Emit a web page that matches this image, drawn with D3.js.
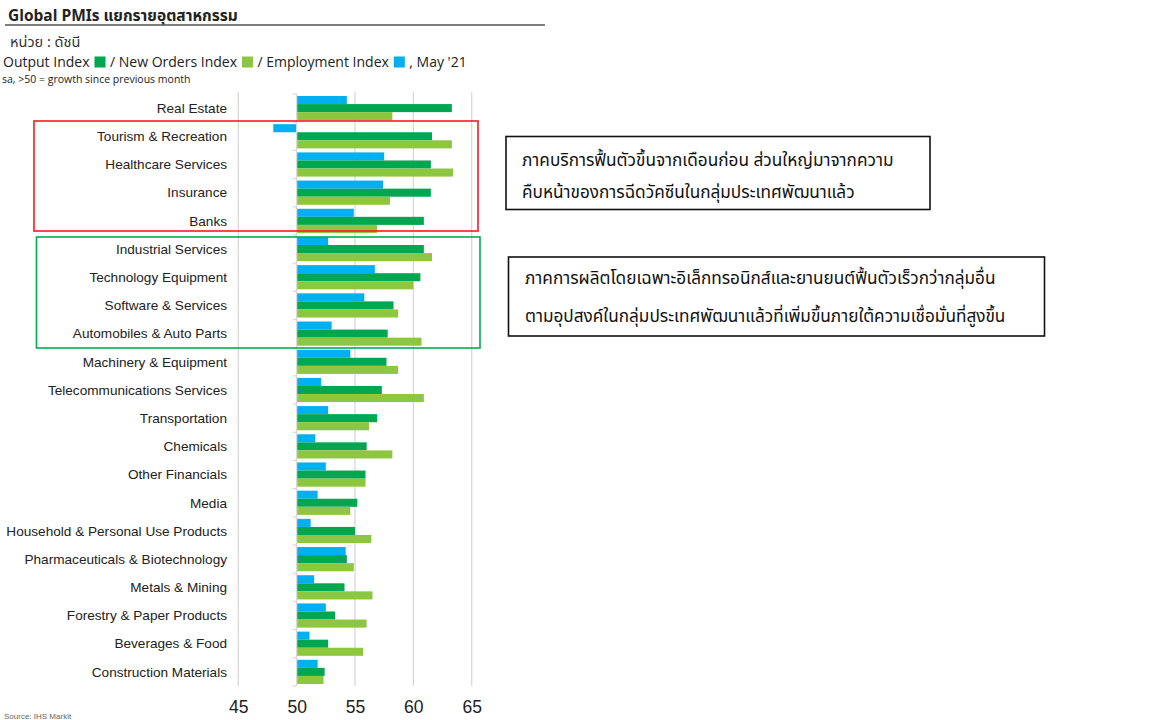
<!DOCTYPE html>
<html><head><meta charset="utf-8">
<script src="https://cdn.jsdelivr.net/npm/d3@7"></script>
<style>
html,body{margin:0;padding:0;background:#fff;}
svg{display:block;}
</style></head>
<body>
<svg id="c" width="1156" height="720"></svg>
<script>
const categories = ["Real Estate","Tourism & Recreation","Healthcare Services","Insurance","Banks","Industrial Services","Technology Equipment","Software & Services","Automobiles & Auto Parts","Machinery & Equipment","Telecommunications Services","Transportation","Chemicals","Other Financials","Media","Household & Personal Use Products","Pharmaceuticals & Biotechnology","Metals & Mining","Forestry & Paper Products","Beverages & Food","Construction Materials"];
const employment = [54.3,48.0,57.5,57.4,54.9,52.7,56.7,55.8,53.0,54.6,52.1,52.7,51.6,52.5,51.8,51.2,54.2,51.5,52.5,51.1,51.8];
const output = [63.3,61.6,61.5,61.5,60.9,60.9,60.6,58.3,57.8,57.7,57.3,56.9,56.0,55.9,55.2,55.0,54.3,54.1,53.3,52.7,52.4];
const newOrders = [58.2,63.3,63.4,58.0,56.9,61.6,60.0,58.7,60.7,58.7,60.9,56.2,58.2,55.9,54.6,56.4,54.9,56.5,56.0,55.7,52.3];
const xTicks = [45,50,55,60,65];
const seriesNames = ["Employment Index","Output Index","New Orders Index"];
const seriesColors = {"Employment Index":"#00b0f0","Output Index":"#00a650","New Orders Index":"#8dc63f"};
const title = "Global PMIs แยกรายอุตสาหกรรม";
const unitText = "หน่วย : ดัชนี";
const noteText = "sa, >50 = growth since previous month";
const note1 = ["ภาคบริการฟื้นตัวขึ้นจากเดือนก่อน ส่วนใหญ่มาจากความ","คืบหน้าของการฉีดวัคซีนในกลุ่มประเทศพัฒนาแล้ว"];
const note2 = ["ภาคการผลิตโดยเฉพาะอิเล็กทรอนิกส์และยานยนต์ฟื้นตัวเร็วกว่ากลุ่มอื่น","ตามอุปสงค์ในกลุ่มประเทศพัฒนาแล้วที่เพิ่มขึ้นภายใต้ความเชื่อมั่นที่สูงขึ้น"];

const svg = d3.select("#c");
const thai = "Tahoma, 'Noto Sans Thai', 'Noto Sans', 'DejaVu Sans', sans-serif";
const arial = "'Liberation Sans', Arial, sans-serif";

const x = d3.scaleLinear().domain([45,65]).range([238.3,471.7]);
const y = d3.scaleBand().domain(categories).range([94,686]).padding(0);
const inner = d3.scaleBand().domain(seriesNames).range([2, y.bandwidth()-2]).padding(0);
const valuesBy = {"Employment Index":employment,"Output Index":output,"New Orders Index":newOrders};

// title
svg.append("text").attr("x",8).attr("y",21).attr("font-family",thai).attr("font-size",15.5).attr("font-weight","bold").attr("fill","#222").text(title);
svg.append("line").attr("x1",5).attr("x2",545).attr("y1",25).attr("y2",25).attr("stroke","#555").attr("stroke-width",1.3);
svg.append("text").attr("x",10).attr("y",47).attr("font-family",thai).attr("font-size",14.5).attr("fill","#333").text(unitText);

// legend
const leg = svg.append("g").attr("font-family","'Open Sans', 'Noto Sans', sans-serif").attr("font-size",14).attr("fill","#222");
const legItems = [["Output Index","Output Index"],["/ New Orders Index","New Orders Index"],["/ Employment Index","Employment Index"],[", May '21",null]];
let lx = 3;
legItems.forEach(([t,s])=>{
  const tt = leg.append("text").attr("x",lx).attr("y",67).text(t);
  lx += tt.node().getComputedTextLength() + 5;
  if(s){
    leg.append("rect").attr("x",lx).attr("y",56.5).attr("width",11).attr("height",11).attr("fill",seriesColors[s]);
    lx += 15.5;
  }
});
svg.append("text").attr("x",2).attr("y",83).attr("font-family","'Open Sans', 'Noto Sans', sans-serif").attr("font-size",10.5).attr("fill","#222").text(noteText);

// gridlines
svg.append("g").selectAll("line").data(xTicks.filter(d=>d!==50)).join("line")
  .attr("x1",d=>x(d)).attr("x2",d=>x(d)).attr("y1",92).attr("y2",686)
  .attr("stroke","#d9d9d9").attr("stroke-width",1.3);

// bars
const g = svg.append("g");
categories.forEach((c,i)=>{
  seriesNames.forEach(s=>{
    const v = valuesBy[s][i];
    g.append("rect")
      .attr("x",Math.min(x(v),x(50)))
      .attr("y",y(c)+inner(s))
      .attr("width",Math.abs(x(v)-x(50)))
      .attr("height",inner.bandwidth())
      .attr("fill",seriesColors[s]);
  });
});

// y axis at 50
const yAxisG = svg.append("g").attr("transform",`translate(${x(50)},0)`);
yAxisG.append("line").attr("y1",94).attr("y2",686).attr("stroke","#d9d9d9").attr("stroke-width",1.3);
yAxisG.selectAll("line.tk").data(d3.range(categories.length+1)).join("line").attr("class","tk")
  .attr("x1",-4).attr("x2",0).attr("y1",i=>94+i*y.bandwidth()).attr("y2",i=>94+i*y.bandwidth())
  .attr("stroke","#d9d9d9").attr("stroke-width",1.3);

// category labels
svg.append("g").selectAll("text").data(categories).join("text")
  .attr("x",227).attr("y",d=>y(d)+y.bandwidth()/2).attr("dy","0.35em")
  .attr("text-anchor","end").attr("font-family",arial).attr("font-size",13.6).attr("fill","#222").text(d=>d);

// x axis
const xAxis = d3.axisBottom(x).tickValues(xTicks).tickSize(0).tickPadding(0);
const xg = svg.append("g").attr("transform","translate(0,699)").call(xAxis);
xg.select(".domain").remove();
xg.selectAll("text").attr("font-family",arial).attr("font-size",17.5).attr("fill","#222").attr("dy","0.8em");

// source
svg.append("text").attr("x",4).attr("y",719).attr("font-family",arial).attr("font-size",8).attr("fill","#666").text("Source: IHS Markit");

// highlight boxes
svg.append("rect").attr("x",34).attr("y",121).attr("width",444).attr("height",110).attr("fill","none").attr("stroke","#ff1a1a").attr("stroke-width",1.6);
svg.append("rect").attr("x",36.5).attr("y",237).attr("width",443.5).attr("height",111).attr("fill","none").attr("stroke","#00b050").attr("stroke-width",1.6);

// annotation boxes
function note(x0,y0,w,h,lines,tx,ty0,dy){
  svg.append("rect").attr("x",x0).attr("y",y0).attr("width",w).attr("height",h).attr("fill","#fff").attr("stroke","#111").attr("stroke-width",1.6);
  lines.forEach((l,i)=>svg.append("text").attr("x",tx).attr("y",ty0+i*dy).attr("font-family",thai).attr("font-size",17.2).attr("fill","#111").text(l));
}
note(506,136.5,424,73,note1,522,166,32);
note(508.5,257,536,79,note2,525,284,38);
</script>
</body></html>
